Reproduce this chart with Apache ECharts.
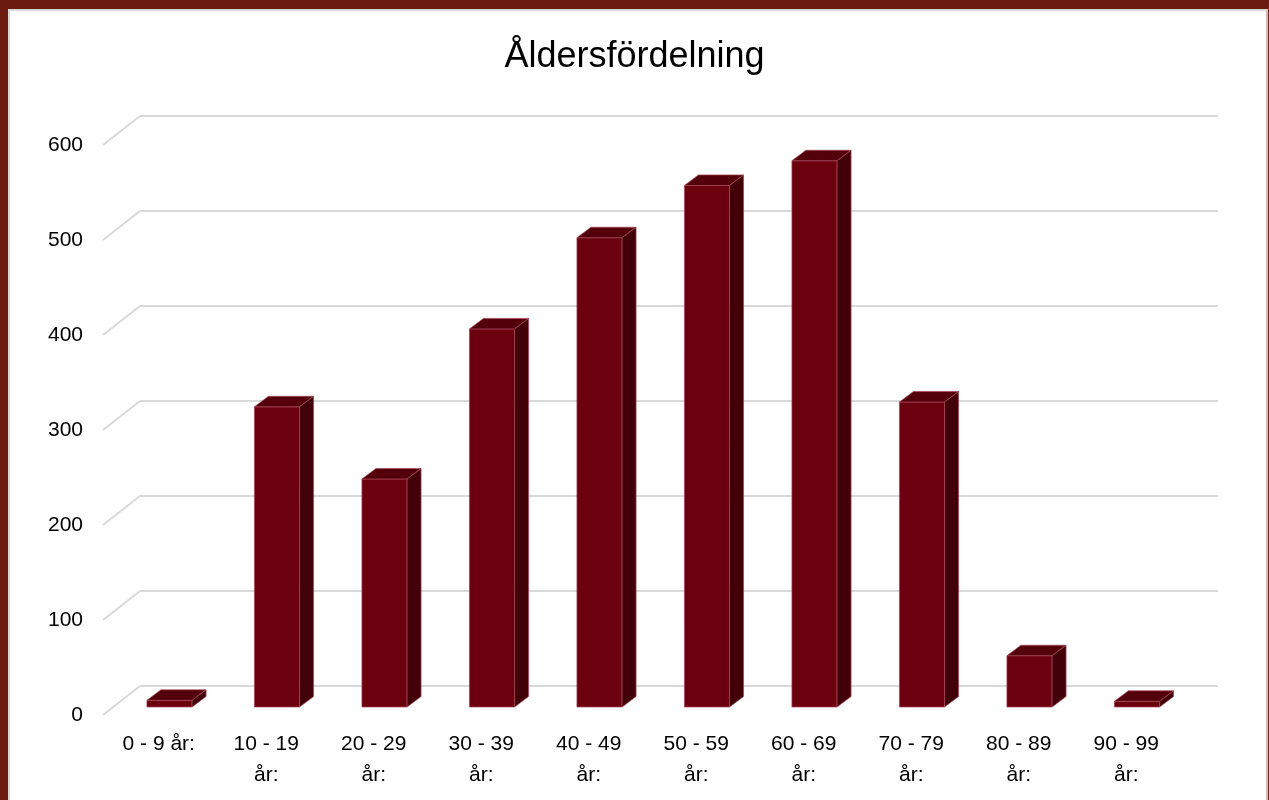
<!DOCTYPE html>
<html>
<head>
    <meta charset="utf-8" />
    <style>
        html, body {
            margin: 0;
            padding: 0;
            background-color: #fff;
        }
        #chart {
            position: absolute;
            left: 0;
            top: 0;
            width: 1269px;
            height: 800px;
        }
        .frame {
            position: absolute;
            left: 0;
            top: 0;
            width: 1269px;
            height: 800px;
            box-sizing: border-box;
            border-left: 8px solid #6b1a10;
            border-top: 9px solid #6b1a10;
            border-right: 1px solid #7a2a20;
            pointer-events: none;
        }
        .inner {
            position: absolute;
            left: 0;
            top: 0;
            right: 0;
            bottom: -2px;
            border-left: 2px solid #d8d8d8;
            border-top: 2px solid #d8d8d8;
            border-right: 2px solid #d4b8b8;
        }
    </style>
</head>
<body>
    <div id="chart"></div>
    <div class="frame"><div class="inner"></div></div>

    <script src="https://cdn.jsdelivr.net/npm/echarts@6/dist/echarts.min.js"></script>
    <script type="text/javascript">
        // kategorier och antal
        var categories = ['0 - 9 år:', '10 - 19 år:', '20 - 29 år:', '30 - 39 år:', '40 - 49 år:',
            '50 - 59 år:', '60 - 69 år:', '70 - 79 år:', '80 - 89 år:', '90 - 99 år:'];
        var counts = [7, 316, 240, 398, 494, 549, 575, 321, 54, 6];
        var yTicks = [0, 100, 200, 300, 400, 500, 600];

        var FONT = '"Liberation Sans", Arial, sans-serif';
        var DEPTH_X = 37, DEPTH_Y = 29;   // väggens djup
        var BAR_DX = 14, BAR_DY = 10.5;   // stapelns djup

        function renderBar(params, api) {
            var idx = api.value(0);
            var top = api.coord([idx, api.value(1)]);
            var base = api.coord([idx, 0]);
            var w = api.size([1, 0])[0] * 0.42;
            var x = top[0] - w / 2;
            var edge = { stroke: 'rgba(170,70,90,0.7)', lineWidth: 1 };
            return {
                type: 'group',
                children: [
                    {
                        type: 'rect',
                        shape: { x: x, y: top[1], width: w, height: base[1] - top[1] },
                        style: Object.assign({ fill: '#6b000e' }, edge)
                    },
                    {
                        type: 'polygon',
                        shape: { points: [[x, top[1]], [x + BAR_DX, top[1] - BAR_DY], [x + w + BAR_DX, top[1] - BAR_DY], [x + w, top[1]]] },
                        style: Object.assign({ fill: '#53000a' }, edge)
                    },
                    {
                        type: 'polygon',
                        shape: { points: [[x + w, top[1]], [x + w + BAR_DX, top[1] - BAR_DY], [x + w + BAR_DX, base[1] - BAR_DY], [x + w, base[1]]] },
                        style: Object.assign({ fill: '#420008' }, edge)
                    }
                ]
            };
        }

        // diagonala linjer på sidoväggen
        function renderDiag(params, api) {
            var y = api.coord([0, api.value(1)])[1];
            var x = params.coordSys.x;
            return {
                type: 'line',
                shape: { x1: x - DEPTH_X, y1: y + DEPTH_Y, x2: x, y2: y },
                style: { stroke: '#d9d9d9', lineWidth: 2 }
            };
        }

        var myChart = echarts.init(document.getElementById('chart'));
        var option = {
            backgroundColor: '#fff',
            animation: false,
            title: {
                text: 'Åldersfördelning',
                left: 'center',
                top: 34,
                textStyle: { fontFamily: FONT, fontSize: 36, fontWeight: 'normal', color: '#000' }
            },
            grid: [
                { left: 115.75, top: 137, width: 1075, height: 570 },  // staplar
                { left: 105, top: 145, width: 1075, height: 570 },     // framkant
                { left: 140, top: 116, width: 1078, height: 570 }      // bakvägg
            ],
            xAxis: [
                { gridIndex: 0, type: 'category', data: categories, show: false },
                {
                    gridIndex: 1, type: 'category', data: categories,
                    axisLine: { show: false }, axisTick: { show: false },
                    axisLabel: {
                        interval: 0, margin: 14, color: '#000', fontFamily: FONT, fontSize: 21, lineHeight: 31,
                        formatter: function (v) {
                            return v.length > 9 ? v.replace(' år:', '\når:') : v;
                        }
                    }
                },
                { gridIndex: 2, type: 'category', data: categories, show: false }
            ],
            yAxis: [
                { gridIndex: 0, type: 'value', min: 0, max: 600, interval: 100, show: false },
                {
                    gridIndex: 1, type: 'value', min: 0, max: 600, interval: 100,
                    axisLine: { show: false }, axisTick: { show: false }, splitLine: { show: false },
                    axisLabel: { margin: 22, color: '#000', fontFamily: FONT, fontSize: 21 }
                },
                {
                    gridIndex: 2, type: 'value', min: 0, max: 600, interval: 100,
                    axisLine: { show: false }, axisTick: { show: false }, axisLabel: { show: false },
                    splitLine: { show: true, lineStyle: { color: '#d9d9d9', width: 2 } }
                }
            ],
            series: [
                {
                    type: 'custom',
                    xAxisIndex: 2, yAxisIndex: 2,
                    clip: false,
                    renderItem: renderDiag,
                    data: yTicks.map(function (v) { return [0, v]; })
                },
                {
                    type: 'custom',
                    xAxisIndex: 0, yAxisIndex: 0,
                    clip: false,
                    renderItem: renderBar,
                    data: counts.map(function (v, i) { return [i, v]; })
                }
            ]
        };
        myChart.setOption(option);
    </script>
</body>
</html>
